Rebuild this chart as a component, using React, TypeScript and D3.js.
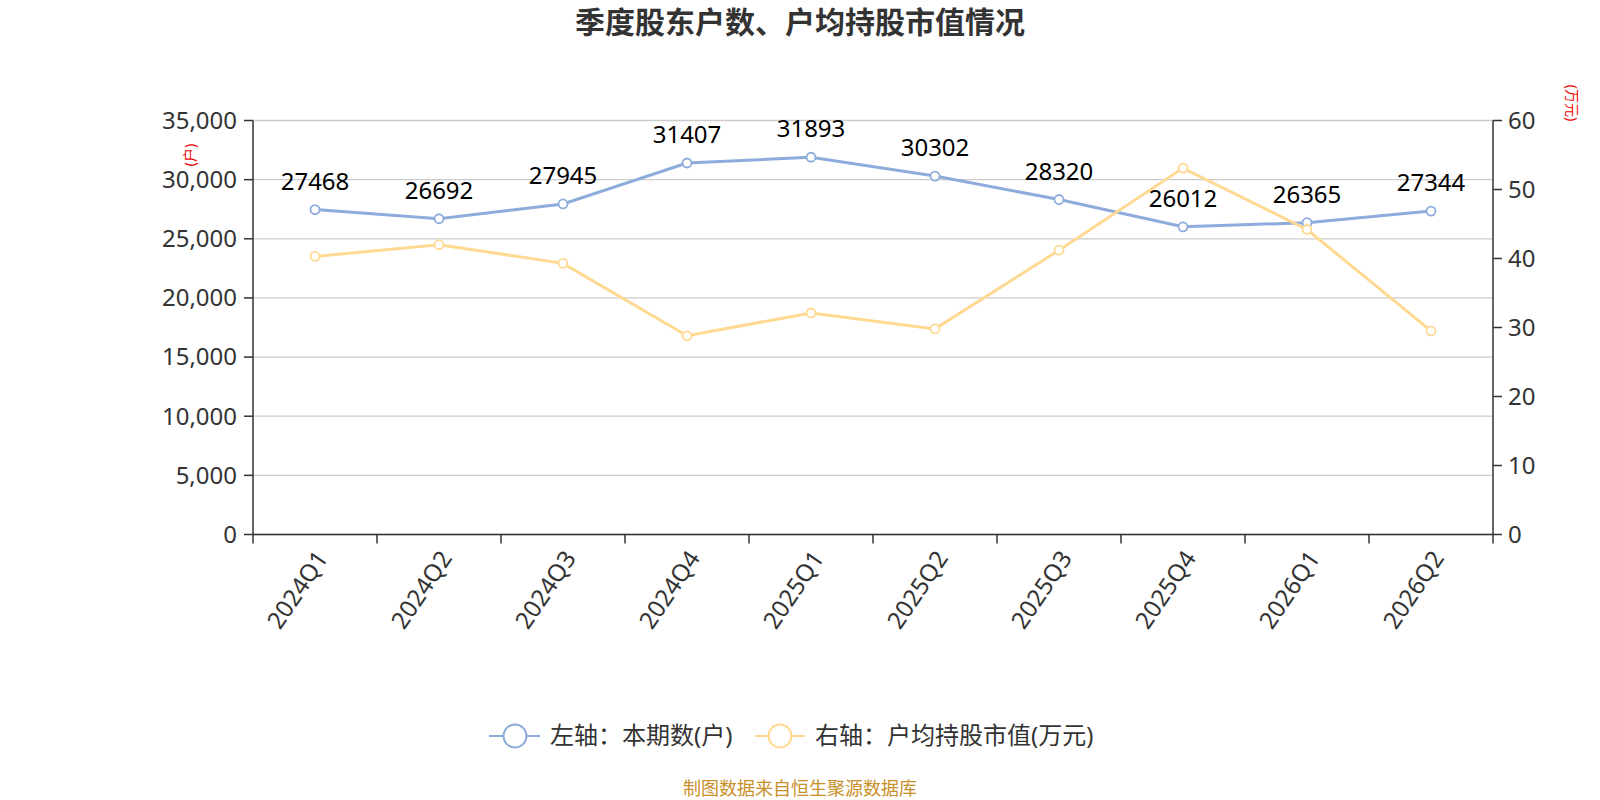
import React from 'react';
import * as d3 from 'd3';

const categories = ['2024Q1', '2024Q2', '2024Q3', '2024Q4', '2025Q1', '2025Q2', '2025Q3', '2025Q4', '2026Q1', '2026Q2'];
const holders = [27468, 26692, 27945, 31407, 31893, 30302, 28320, 26012, 26365, 27344];
const avgValue = [40.3, 42.0, 39.3, 28.8, 32.1, 29.8, 41.2, 53.1, 44.2, 29.5];
const leftTicks = [0, 5000, 10000, 15000, 20000, 25000, 30000, 35000];
const rightTicks = [0, 10, 20, 30, 40, 50, 60];

const BLUE = '#8eacdb';
const YELLOW = '#ffd992';
const FONT = '"Noto Sans", "Noto Sans CJK SC", sans-serif';

export default function App() {
  const width = 1600;
  const height = 800;
  const plot = { left: 253, right: 1493, top: 120.5, bottom: 534.5 };

  const x = d3.scaleBand<string>().domain(categories).range([plot.left, plot.right]);
  const yL = d3.scaleLinear().domain([0, 35000]).range([plot.bottom, plot.top]);
  const yR = d3.scaleLinear().domain([0, 60]).range([plot.bottom, plot.top]);
  const cx = (c: string) => (x(c) ?? 0) + x.bandwidth() / 2;

  const lineL = d3.line<number>().x((_, i) => cx(categories[i])).y(d => yL(d));
  const lineR = d3.line<number>().x((_, i) => cx(categories[i])).y(d => yR(d));
  const fmt = d3.format(',');

  return (
    <svg width={width} height={height} style={{ position: 'fixed', left: 0, top: 0, background: '#fff' }} fontFamily={FONT}>
      {/* title */}
      <text x={800} y={33} textAnchor="middle" fontSize={30} fontWeight="bold" fill="#333">
        季度股东户数、户均持股市值情况
      </text>

      {/* grid */}
      {leftTicks.map(t => (
        <line key={t} x1={plot.left} x2={plot.right} y1={yL(t)} y2={yL(t)} stroke="#ccc" strokeWidth={1.3} />
      ))}

      {/* left axis */}
      <line x1={plot.left} x2={plot.left} y1={plot.top} y2={plot.bottom} stroke="#333" strokeWidth={1.5} />
      {leftTicks.map(t => (
        <g key={t}>
          <line x1={plot.left - 9} x2={plot.left} y1={yL(t)} y2={yL(t)} stroke="#333" strokeWidth={1.5} />
          <text x={plot.left - 16} y={yL(t)} dy="0.35em" textAnchor="end" fontSize={24} fill="#333">{fmt(t)}</text>
        </g>
      ))}
      <text transform="translate(190,155) rotate(-90)" textAnchor="middle" dy="0.35em" fontSize={14} fill="#e00">(户)</text>

      {/* right axis */}
      <line x1={plot.right} x2={plot.right} y1={plot.top} y2={plot.bottom} stroke="#333" strokeWidth={1.5} />
      {rightTicks.map(t => (
        <g key={t}>
          <line x1={plot.right} x2={plot.right + 9} y1={yR(t)} y2={yR(t)} stroke="#333" strokeWidth={1.5} />
          <text x={plot.right + 15} y={yR(t)} dy="0.35em" textAnchor="start" fontSize={24} fill="#333">{t}</text>
        </g>
      ))}
      <text transform="translate(1572,103) rotate(90)" textAnchor="middle" dy="0.35em" fontSize={14} fill="#e00">(万元)</text>

      {/* bottom axis */}
      <line x1={plot.left} x2={plot.right} y1={plot.bottom} y2={plot.bottom} stroke="#333" strokeWidth={1.5} />
      {[...categories.map(c => x(c) ?? 0), plot.right].map((v, i) => (
        <line key={i} x1={v} x2={v} y1={plot.bottom} y2={plot.bottom + 9} stroke="#333" strokeWidth={1.5} />
      ))}
      {categories.map(c => (
        <text key={c} transform={`translate(${cx(c) + 7},${plot.bottom + 19}) rotate(-56)`} textAnchor="end" dy="0.35em" fontSize={24} fill="#333">
          {c}
        </text>
      ))}

      {/* series */}
      <path d={lineL(holders) ?? ''} fill="none" stroke={BLUE} strokeWidth={3} />
      <path d={lineR(avgValue) ?? ''} fill="none" stroke={YELLOW} strokeWidth={3} />
      {holders.map((v, i) => (
        <circle key={i} cx={cx(categories[i])} cy={yL(v)} r={4.5} fill="#fff" stroke={BLUE} strokeWidth={1.8} />
      ))}
      {avgValue.map((v, i) => (
        <circle key={i} cx={cx(categories[i])} cy={yR(v)} r={4.5} fill="#fff" stroke={YELLOW} strokeWidth={1.8} />
      ))}
      {holders.map((v, i) => (
        <text key={i} x={cx(categories[i])} y={yL(v) - 20} textAnchor="middle" fontSize={24} fill="#000">{v}</text>
      ))}

      {/* legend */}
      <g>
        <line x1={489} x2={540} y1={736} y2={736} stroke={BLUE} strokeWidth={2} />
        <circle cx={515} cy={736} r={11.5} fill="#fff" stroke={BLUE} strokeWidth={2} />
        <text x={550} y={736} dy="0.35em" fontSize={24} fill="#333">左轴：本期数(户)</text>
        <line x1={755} x2={805} y1={736} y2={736} stroke={YELLOW} strokeWidth={2} />
        <circle cx={780} cy={736} r={11.5} fill="#fff" stroke={YELLOW} strokeWidth={2} />
        <text x={815} y={736} dy="0.35em" fontSize={24} fill="#333">右轴：户均持股市值(万元)</text>
      </g>

      {/* source */}
      <text x={800} y={795} textAnchor="middle" fontSize={18} fill="#c8902a">制图数据来自恒生聚源数据库</text>
    </svg>
  );
}
